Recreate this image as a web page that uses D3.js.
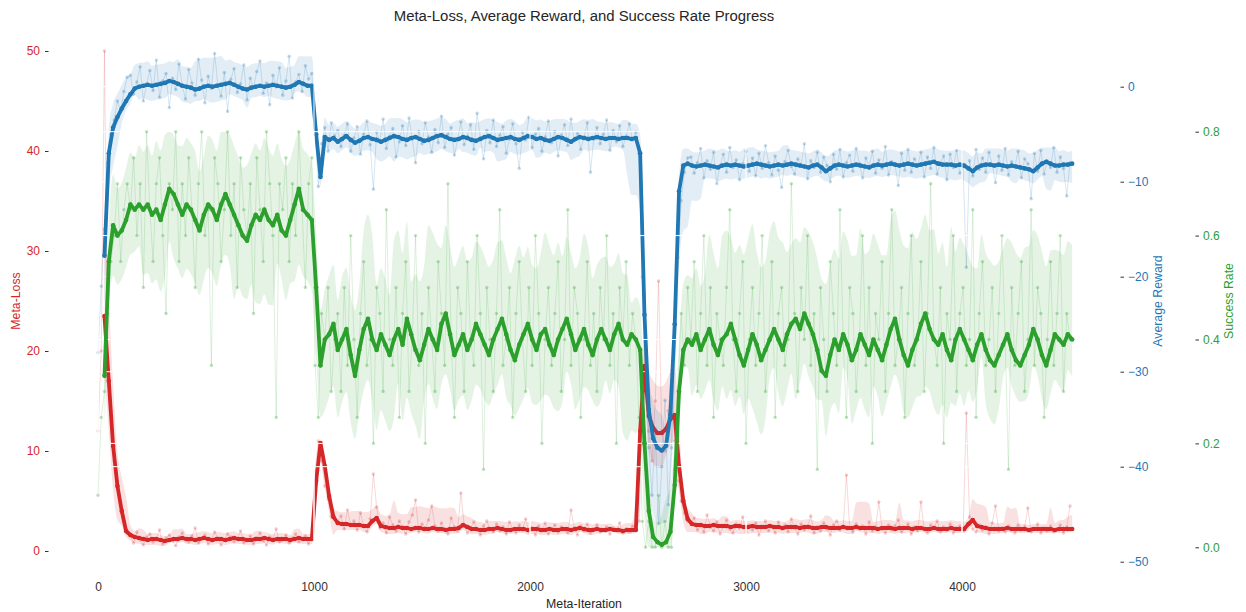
<!DOCTYPE html>
<html><head><meta charset="utf-8">
<script src="https://cdn.jsdelivr.net/npm/d3@7"></script>
<style>body{margin:0;background:#fff;} svg text{font-family:"Liberation Sans",Arial,sans-serif;}</style>
</head><body><svg id="c" width="1246" height="612"></svg>
<script>
// ---------- data ----------
const rawStep = 15;          // raw samples every 15 meta-iterations (0..4500)
const smoothStart = 30;      // smoothed series start
const smoothStep = 20;       // smoothed samples every 20 meta-iterations
const xTicks = [0, 1000, 2000, 3000, 4000];
const lossTicks = [0, 10, 20, 30, 40, 50];
const rewardTicks = [-50, -40, -30, -20, -10, 0];
const successTicks = [0.0, 0.2, 0.4, 0.6, 0.8];

const lossRaw = [12,20,50,18,14,9,7,4.5,3,1.8,
1.5,0.8,1.9,1.1,0.6,1.4,1.7,0.9,1.2,2.1,0.7,1.3,1.6,1.0,0.5,1.4,1.8,1.1,0.9,1.5,2.3,0.8,1.2,1.6,0.7,1.0,1.9,1.3,0.6,1.1,1.7,1.4,0.9,1.2,2.0,0.8,1.1,1.5,0.7,1.3,1.8,1.0,0.6,1.4,1.2,2.2,0.9,1.1,1.6,0.8,1.3,1.7,0.9,1.2,1.5,0.7,1.4,
8,11,9,6.5,5.2,3.5,3.2,
2.9,3.5,2.2,4.1,2.6,3.0,2.1,3.8,2.5,1.9,
3.2,7.7,4.4,2.3,2.8,1.8,3.4,2.6,2.0,3.0,
2.4,1.7,2.9,3.6,5.1,1.9,2.7,2.3,3.1,4.5,
2.5,2.0,2.8,2.2,1.7,3.3,2.4,2.0,5.8,2.6,
1.8,2.3,2.9,2.1,1.6,2.5,3.0,2.2,1.9,2.7,
2.0,2.4,1.7,2.9,2.2,1.8,2.6,2.1,3.2,1.9,
2.3,1.6,2.5,2.0,2.8,1.7,2.2,2.6,1.9,2.4,
2.1,1.8,4.1,2.3,1.6,2.5,2.0,2.7,1.8,2.2,
2.6,1.9,2.1,2.4,1.7,2.3,2.0,2.8,1.8,2.2,
1.9,2.5,2.1,
3,15,22,12,9,15,27,12,10,14,18,11,7,5,3.8,3,
2.8,3.3,2.1,2.6,1.9,3.6,2.4,2.0,2.9,1.7,
2.5,3.1,2.2,1.8,2.7,2.3,3.4,1.9,2.6,2.1,
2.8,1.6,2.4,3.0,2.0,2.5,1.8,2.9,2.2,2.6,
1.9,3.2,2.3,1.7,2.7,2.1,2.5,3.5,1.8,2.4,
2.0,2.8,2.2,1.6,2.6,3.0,2.1,2.4,7.6,2.3,
1.9,2.7,2.2,2.5,1.7,2.9,2.0,2.4,4.9,2.2,
1.8,2.6,2.1,2.5,3.1,1.9,2.3,2.7,1.7,2.4,
2.0,4.9,2.2,1.8,2.6,2.3,3.0,1.9,2.4,2.1,
2.7,1.8,2.3,2.5,2.0,13.8,3.4,2.2,1.9,2.6,
2.1,2.4,1.7,2.8,4.5,2.0,2.3,1.9,2.5,2.2,
1.8,2.6,2.1,2.4,4.3,1.9,2.2,2.7,1.8,2.3,
2.0,2.5,1.9,2.2,2.6,1.8,2.4,4.5];

const rewardRaw = [-28,-21,-15,-8,-5,-3.5,-1.5,-2.5,-0.5,1.0,
1.2,-0.8,0.5,2.1,-1.5,0.3,1.7,-0.4,2.8,-1.1,0.6,1.4,-2.2,0.9,-0.3,2.4,0.1,-1.3,1.8,0.4,-0.9,2.9,0.7,-1.7,1.1,-0.2,3.5,0.2,-1.0,1.5,-2.6,0.8,1.9,-0.6,0.3,2.3,-1.4,0.9,-0.1,1.6,2.7,-0.7,0.4,-1.9,1.2,0.0,2.0,-0.9,0.6,3.2,-1.2,0.5,1.3,-0.5,2.2,0.8,1.4,
-4.5,-10.5,-6,-4.3,-6.8,-3.8,-5.2,
-4.6,-6.3,-5.1,-3.9,-6.8,-5.4,-4.2,-7.1,-5.0,-3.6,
-6.1,-10.8,-4.8,-5.7,-3.4,-6.5,-5.2,-4.4,-7.4,-5.8,
-4.1,-6.2,-3.3,-5.5,-8.0,-4.7,-6.0,-3.8,-5.3,-6.9,
-4.5,-5.9,-3.1,-6.4,-5.0,-4.3,-7.2,-5.6,-3.7,-6.1,
-5.2,-4.0,-6.6,-2.8,-5.4,-7.6,-4.6,-5.9,-3.5,-6.3,
-5.1,-4.2,-7.0,-5.5,-3.9,-6.0,-8.6,-4.8,-5.6,-3.2,
-6.4,-5.0,-4.4,-6.8,-5.3,-3.6,-5.9,-4.7,-7.3,-5.1,
-4.0,-6.2,-3.4,-5.7,-4.9,-6.6,-5.3,-3.8,-9.0,-5.5,
-4.3,-6.0,-5.0,-3.5,-6.7,-4.6,-5.8,-4.1,-6.3,-5.2,
-3.9,-5.6,-4.8,
-7,-20,-30,-38,-43,-36,-46,-40,-33,-44,-38,-25,-18,-12,-9,-7.5,
-7.4,-9.1,-8.0,-6.5,-9.6,-7.8,-8.7,-6.9,-10.2,-8.3,
-7.1,-9.0,-6.4,-8.5,-7.7,-9.8,-8.1,-6.8,-8.9,-7.5,
-9.4,-7.0,-8.6,-6.2,-8.0,-9.3,-7.3,-8.8,-10.6,-7.9,
-6.7,-8.4,-9.2,-7.6,-8.2,-6.0,-9.7,-7.8,-8.5,-6.9,
-9.0,-7.4,-8.3,-10.0,-7.1,-8.7,-6.6,-9.5,-8.0,-7.2,
-8.9,-6.5,-8.1,-9.6,-7.5,-8.4,-6.8,-9.1,-7.7,-8.6,
-6.3,-9.3,-7.9,-8.2,-10.4,-7.0,-8.8,-6.6,-9.0,-7.6,
-8.3,-6.9,-9.5,-7.4,-8.6,-6.4,-9.2,-8.0,-7.3,-9.8,
-7.1,-8.5,-6.7,-9.1,-8.4,-19.0,-7.8,-9.4,-6.6,-8.7,
-7.5,-9.0,-6.9,-8.2,-10.1,-7.3,-8.8,-6.5,-9.3,-7.9,
-8.4,-6.8,-9.6,-7.6,-8.1,-11.8,-7.0,-8.9,-6.7,-9.2,
-7.8,-8.5,-6.4,-9.0,-7.4,-8.6,-11.5,-8.0];

const successRaw = [0.1,0.25,0.3,0.45,0.55,0.6,0.7,0.55,0.65,0.7,
0.65,0.75,0.6,0.7,0.5,0.8,0.65,0.55,0.7,0.75,0.6,0.45,0.7,0.65,0.8,0.55,0.7,0.6,0.75,0.65,0.5,0.7,0.8,0.6,0.65,0.35,0.75,0.7,0.55,0.65,0.8,0.6,0.7,0.5,0.75,0.65,0.6,0.7,0.45,0.75,0.65,0.55,0.8,0.7,0.6,0.25,0.7,0.65,0.75,0.55,0.7,0.6,0.8,0.65,0.5,0.7,0.75,
0.35,0.25,0.45,0.4,0.5,0.3,0.4,
0.45,0.3,0.5,0.35,0.6,0.4,0.25,0.45,0.55,0.35,
0.4,0.2,0.5,0.45,0.3,0.65,0.4,0.35,0.5,0.25,
0.45,0.55,0.3,0.4,0.6,0.35,0.45,0.2,0.5,0.4,
0.3,0.55,0.45,0.35,0.7,0.4,0.25,0.5,0.45,0.3,
0.55,0.4,0.35,0.6,0.45,0.15,0.5,0.4,0.3,0.45,
0.65,0.35,0.4,0.5,0.25,0.45,0.55,0.4,0.3,0.5,
0.35,0.6,0.45,0.2,0.4,0.5,0.35,0.45,0.55,0.3,
0.4,0.65,0.35,0.5,0.45,0.25,0.4,0.55,0.35,0.45,
0.3,0.5,0.4,0.6,0.35,0.45,0.2,0.5,0.4,0.55,
0.35,0.45,0.4,
0.25,0.05,0.0,0.05,0.0,0.0,0.1,0.0,0.05,0.0,0.0,0.15,0.3,0.45,0.35,0.5,
0.4,0.55,0.3,0.45,0.6,0.35,0.5,0.25,0.45,0.4,
0.35,0.5,0.65,0.4,0.3,0.45,0.55,0.2,0.4,0.5,
0.35,0.45,0.6,0.3,0.4,0.55,0.25,0.45,0.5,0.35,
0.4,0.7,0.45,0.3,0.5,0.4,0.6,0.35,0.45,0.15,
0.5,0.4,0.3,0.55,0.45,0.35,0.65,0.4,0.25,0.5,
0.45,0.3,0.4,0.6,0.35,0.5,0.2,0.45,0.4,0.55,
0.3,0.45,0.65,0.35,0.4,0.5,0.25,0.45,0.6,0.35,
0.4,0.55,0.3,0.45,0.7,0.4,0.35,0.5,0.2,0.45,
0.4,0.6,0.3,0.45,0.5,0.35,0.4,0.65,0.25,0.45,
0.55,0.35,0.4,0.5,0.3,0.45,0.6,0.4,0.15,0.5,
0.35,0.45,0.55,0.3,0.4,0.65,0.35,0.5,0.45,0.25,
0.4,0.55,0.35,0.45,0.6,0.3,0.45,0.4];

const lossSmooth = [23.5,17,10.5,6.5,4,2.0,1.6,1.4,1.3,
1.2,1.1,1.2,1.2,1.1,1.0,1.1,1.2,1.2,1.3,1.2,1.2,1.1,1.2,1.3,1.2,1.1,1.2,1.2,1.1,1.2,1.3,1.2,1.2,1.1,1.1,1.2,1.2,1.3,1.2,1.1,1.2,1.2,1.2,1.1,1.2,1.3,1.2,1.2,1.2,
7,10.8,8.5,5.5,3.4,2.8,2.7,2.7,2.6,2.6,2.6,2.5,2.5,3.0,3.3,
2.5,2.4,2.3,2.3,2.4,2.3,2.3,2.2,2.3,2.3,2.2,2.2,2.3,2.2,2.2,2.1,2.2,2.2,2.3,2.6,2.4,2.2,2.2,2.1,2.1,2.2,2.2,2.3,2.2,2.1,2.1,2.2,2.2,2.2,2.1,2.2,2.2,2.1,2.1,2.2,2.1,2.1,2.2,2.2,2.1,2.2,2.3,2.2,2.1,2.1,2.2,2.1,2.1,2.2,2.1,2.1,2.0,2.1,2.1,2.1,
12,18.5,13.5,12.3,11.8,11.8,12.2,13.2,13.6,8.5,5,3.2,2.7,
2.6,2.6,2.5,2.5,2.6,2.5,2.5,2.5,2.4,2.5,2.5,2.4,2.4,2.5,2.4,2.4,2.4,2.5,2.4,2.4,2.3,2.4,2.4,2.4,2.3,2.4,2.4,2.3,2.3,2.4,2.4,2.3,2.3,2.3,2.4,2.3,2.3,2.4,2.3,2.3,2.3,2.3,2.2,2.3,2.3,2.3,2.2,2.3,2.3,2.3,2.2,2.3,2.3,2.2,2.2,2.3,2.2,2.2,2.2,2.3,2.2,2.2,2.2,2.7,3.1,2.5,2.4,2.3,2.2,2.2,2.2,2.2,2.3,2.2,2.2,2.2,2.2,2.1,2.2,2.2,2.2,2.2,2.2,2.1,2.2,2.2,2.2,2.2];

const rewardSmooth = [-17.8,-7,-4.3,-3.2,-2.3,-1.5,-0.8,-0.2,0.0,
0.1,0.2,0.1,0.2,0.3,0.4,0.6,0.5,0.3,0.1,0.0,-0.1,-0.3,-0.2,0.0,0.1,0.0,0.1,0.2,0.3,0.4,0.2,0.0,-0.2,-0.3,-0.1,0.0,0.1,0.0,0.1,0.2,0.1,0.0,-0.1,0.0,0.2,0.5,0.3,0.1,0.1,
-5,-9.5,-5.3,
-5.6,-5.4,-5.8,-5.5,-5.2,-5.6,-5.9,-5.7,-5.4,-5.3,-5.5,-5.6,-5.8,-5.6,-5.4,-5.2,-5.3,-5.5,-5.6,-5.4,-5.3,-5.5,-5.7,-5.6,-5.4,-5.2,-5.1,-5.3,-5.5,-5.6,-5.5,-5.3,-5.4,-5.6,-5.7,-5.5,-5.3,-5.2,-5.4,-5.6,-5.5,-5.4,-5.3,-5.5,-5.6,-5.4,-5.2,-5.3,-5.5,-5.4,-5.6,-5.7,-5.5,-5.3,-5.4,-5.6,-5.8,-5.5,-5.3,-5.4,-5.5,-5.4,-5.3,-5.4,-5.5,-5.4,-5.4,-5.5,-5.4,-5.4,-5.5,-5.4,
-7,-24,-34,-37,-38,-38.3,-37.8,-34.5,-25,-11,-8.3,-8.1,
-8.3,-8.4,-8.3,-8.2,-8.3,-8.4,-8.5,-8.3,-8.2,-8.3,-8.2,-8.3,-8.4,-8.3,-8.2,-8.1,-8.2,-8.3,-8.4,-8.3,-8.2,-8.3,-8.2,-8.1,-8.2,-8.3,-8.4,-8.5,-8.3,-8.2,-8.5,-8.9,-8.6,-8.3,-8.2,-8.3,-8.4,-8.3,-8.2,-8.3,-8.4,-8.5,-8.3,-8.2,-8.3,-8.2,-8.1,-8.2,-8.3,-8.2,-8.1,-8.2,-8.3,-8.2,-8.1,-8.0,-7.9,-8.1,-8.2,-8.2,-8.2,-8.3,-8.2,-8.3,-8.6,-8.9,-8.5,-8.3,-8.2,-8.2,-8.3,-8.2,-8.3,-8.4,-8.3,-8.4,-8.5,-8.6,-8.7,-8.9,-8.5,-8.1,-7.9,-8.1,-8.3,-8.3,-8.2,-8.2,-8.1];

const successSmooth = [0.33,0.55,0.62,0.6,0.61,0.63,0.66,0.65,0.66,
0.65,0.66,0.64,0.65,0.63,0.66,0.69,0.68,0.66,0.64,0.66,0.65,0.63,0.61,0.64,0.66,0.65,0.63,0.66,0.68,0.66,0.64,0.62,0.6,0.59,0.62,0.64,0.63,0.65,0.63,0.62,0.64,0.61,0.6,0.63,0.66,0.69,0.65,0.64,0.63,
0.5,0.35,0.4,
0.41,0.43,0.38,0.4,0.42,0.37,0.33,0.38,0.42,0.44,0.4,0.38,0.41,0.39,0.37,0.4,0.42,0.39,0.44,0.41,0.38,0.36,0.39,0.42,0.4,0.38,0.43,0.45,0.41,0.37,0.39,0.41,0.38,0.4,0.43,0.41,0.39,0.37,0.4,0.42,0.44,0.41,0.38,0.36,0.39,0.41,0.43,0.4,0.38,0.41,0.42,0.39,0.37,0.4,0.42,0.44,0.41,0.38,0.4,0.42,0.39,0.37,0.4,0.42,0.4,0.38,0.41,0.43,0.4,0.39,0.41,0.4,
0.38,0.2,0.07,0.02,0.01,0.005,0.01,0.03,0.12,0.3,0.38,
0.4,0.39,0.41,0.38,0.4,0.42,0.39,0.37,0.4,0.41,0.43,0.4,0.37,0.35,0.38,0.41,0.39,0.36,0.38,0.4,0.42,0.4,0.38,0.41,0.43,0.44,0.42,0.45,0.43,0.41,0.38,0.34,0.33,0.37,0.4,0.38,0.41,0.39,0.36,0.38,0.41,0.39,0.37,0.4,0.38,0.36,0.39,0.42,0.44,0.4,0.37,0.35,0.38,0.4,0.43,0.45,0.42,0.4,0.39,0.41,0.38,0.36,0.4,0.42,0.4,0.38,0.36,0.39,0.41,0.38,0.36,0.35,0.37,0.39,0.41,0.38,0.36,0.35,0.37,0.39,0.42,0.4,0.37,0.35,0.38,0.41,0.4,0.39,0.41,0.4];

// ---------- chart ----------
const svg = d3.select('#c');
const RED = '#d62728', BLUE = '#1f77b4', GREEN = '#2ca02c';
const box = {left: 48.5, right: 1120.5, top: 26, bottom: 576};

svg.append('defs').append('clipPath').attr('id', 'plotclip').append('rect')
  .attr('x', box.left).attr('y', box.top)
  .attr('width', box.right - box.left).attr('height', box.bottom - box.top);

const x  = d3.scaleLinear().domain([0, 4000]).range([98, 962]);
const yL = d3.scaleLinear().domain([0, 50]).range([551, 51]);
const yR = d3.scaleLinear().domain([-50, 0]).range([561.7, 86.7]);
const yS = d3.scaleLinear().domain([0, 0.8]).range([547.3, 131.7]);

const rawIter = lossRaw.map((_, i) => i * rawStep);
const smIter = lossSmooth.map((_, j) => smoothStart + j * smoothStep);

// spread of raw samples around the smoothed curve (rolling quantiles of residuals),
// kept within the range of the raw samples in the window
function cloudOf(raw, sm, halfIter, qlo, qhi) {
  const resid = raw.map((v, i) => {
    const j = Math.max(0, Math.min(sm.length - 1, Math.round((rawIter[i] - smoothStart) / smoothStep)));
    return v - sm[j];
  });
  return sm.map((v, j) => {
    const t = smIter[j];
    const idx = raw.map((_, i) => i).filter(i => Math.abs(rawIter[i] - t) <= halfIter);
    const w = idx.map(i => resid[i]).sort(d3.ascending);
    const rw = idx.map(i => raw[i]);
    const mn = d3.min(rw), mx = d3.max(rw);
    const lo = Math.max(mn, Math.min(v, v + d3.quantileSorted(w, qlo)));
    const hi = Math.min(mx, Math.max(v, v + d3.quantileSorted(w, qhi)));
    return {t, lo, hi};
  });
}

function grid(yScale, ticks) {
  const g = svg.append('g');
  g.selectAll('line.h').data(ticks).join('line')
    .attr('x1', box.left).attr('x2', box.right)
    .attr('y1', d => yScale(d)).attr('y2', d => yScale(d))
    .attr('stroke', '#fff').attr('stroke-width', 1);
  g.selectAll('line.v').data(xTicks).join('line')
    .attr('y1', box.top).attr('y2', box.bottom)
    .attr('x1', d => x(d)).attr('x2', d => x(d))
    .attr('stroke', '#fff').attr('stroke-width', 1);
}

function series(raw, sm, yScale, color, o) {
  const g = svg.append('g').attr('clip-path', 'url(#plotclip)');
  const c = cloudOf(raw, sm, 105, o.qlo, o.qhi);
  g.append('path').datum(c)
    .attr('d', d3.area().curve(d3.curveMonotoneX).x(d => x(d.t)).y0(d => yScale(d.lo)).y1(d => yScale(d.hi)))
    .attr('fill', color).attr('opacity', o.band);
  const rd = raw.map((v, i) => [rawIter[i], v]);
  g.append('path').datum(rd)
    .attr('d', d3.line().x(d => x(d[0])).y(d => yScale(d[1])))
    .attr('fill', 'none').attr('stroke', color).attr('stroke-width', 1).attr('opacity', o.rawLine);
  g.selectAll('circle.r').data(rd).join('circle')
    .attr('cx', d => x(d[0])).attr('cy', d => yScale(d[1])).attr('r', 1.7)
    .attr('fill', color).attr('opacity', o.rawDot);
  const sd = sm.map((v, j) => [smIter[j], v]);
  g.append('path').datum(sd)
    .attr('d', d3.line().x(d => x(d[0])).y(d => yScale(d[1])))
    .attr('fill', 'none').attr('stroke', color).attr('stroke-width', 3.8)
    .attr('stroke-linejoin', 'round');
  g.selectAll('circle.s').data(sd).join('circle')
    .attr('cx', d => x(d[0])).attr('cy', d => yScale(d[1])).attr('r', 2.3)
    .attr('fill', color);
}

series(lossRaw, lossSmooth, yL, RED, {band: 0.14, rawLine: 0.18, rawDot: 0.25, qlo: 0.08, qhi: 0.92});
grid(yR, rewardTicks);
series(rewardRaw, rewardSmooth, yR, BLUE, {band: 0.13, rawLine: 0.18, rawDot: 0.28, qlo: 0.08, qhi: 0.92});
grid(yS, successTicks);
series(successRaw, successSmooth, yS, GREEN, {band: 0.12, rawLine: 0.16, rawDot: 0.3, qlo: 0.1, qhi: 0.9});

// ---------- axes ----------
function styleAxis(g, color) {
  g.select('.domain').remove();
  g.selectAll('.tick line').attr('stroke', '#333').attr('stroke-width', 1);
  g.selectAll('.tick text').attr('fill', color).style('font-size', '12px')
    .style('font-family', '"Liberation Sans", Arial, sans-serif');
}
const axL = svg.append('g').attr('transform', `translate(${box.left},0)`)
  .call(d3.axisLeft(yL).tickValues(lossTicks).tickSize(3.5).tickPadding(5).tickFormat(d3.format('d')));
styleAxis(axL, RED);
const axR = svg.append('g').attr('transform', `translate(${box.right},0)`)
  .call(d3.axisRight(yR).tickValues(rewardTicks).tickSize(3.5).tickPadding(4).tickFormat(d3.format('d')));
styleAxis(axR, BLUE);
const axS = svg.append('g').attr('transform', `translate(1195.5,0)`)
  .call(d3.axisRight(yS).tickValues(successTicks).tickSize(3.5).tickPadding(4).tickFormat(d3.format('.1f')));
styleAxis(axS, GREEN);
const axB = svg.append('g').attr('transform', `translate(0,${box.bottom})`)
  .call(d3.axisBottom(x).tickValues(xTicks).tickSize(0).tickPadding(6).tickFormat(d3.format('d')));
styleAxis(axB, '#333');

// ---------- labels ----------
svg.append('text').attr('x', 584).attr('y', 21).attr('text-anchor', 'middle')
  .attr('fill', '#262626').style('font-size', '14.9px')
  .text('Meta-Loss, Average Reward, and Success Rate Progress');
svg.append('text').attr('x', 584).attr('y', 608).attr('text-anchor', 'middle')
  .attr('fill', '#262626').style('font-size', '12.3px').text('Meta-Iteration');
svg.append('text').attr('transform', 'translate(20,301) rotate(-90)').attr('text-anchor', 'middle')
  .attr('fill', RED).style('font-size', '12.3px').text('Meta-Loss');
svg.append('text').attr('transform', 'translate(1162,301) rotate(-90)').attr('text-anchor', 'middle')
  .attr('fill', BLUE).style('font-size', '12.3px').text('Average Reward');
svg.append('text').attr('transform', 'translate(1233,301) rotate(-90)').attr('text-anchor', 'middle')
  .attr('fill', GREEN).style('font-size', '12.3px').text('Success Rate');
</script></body></html>
